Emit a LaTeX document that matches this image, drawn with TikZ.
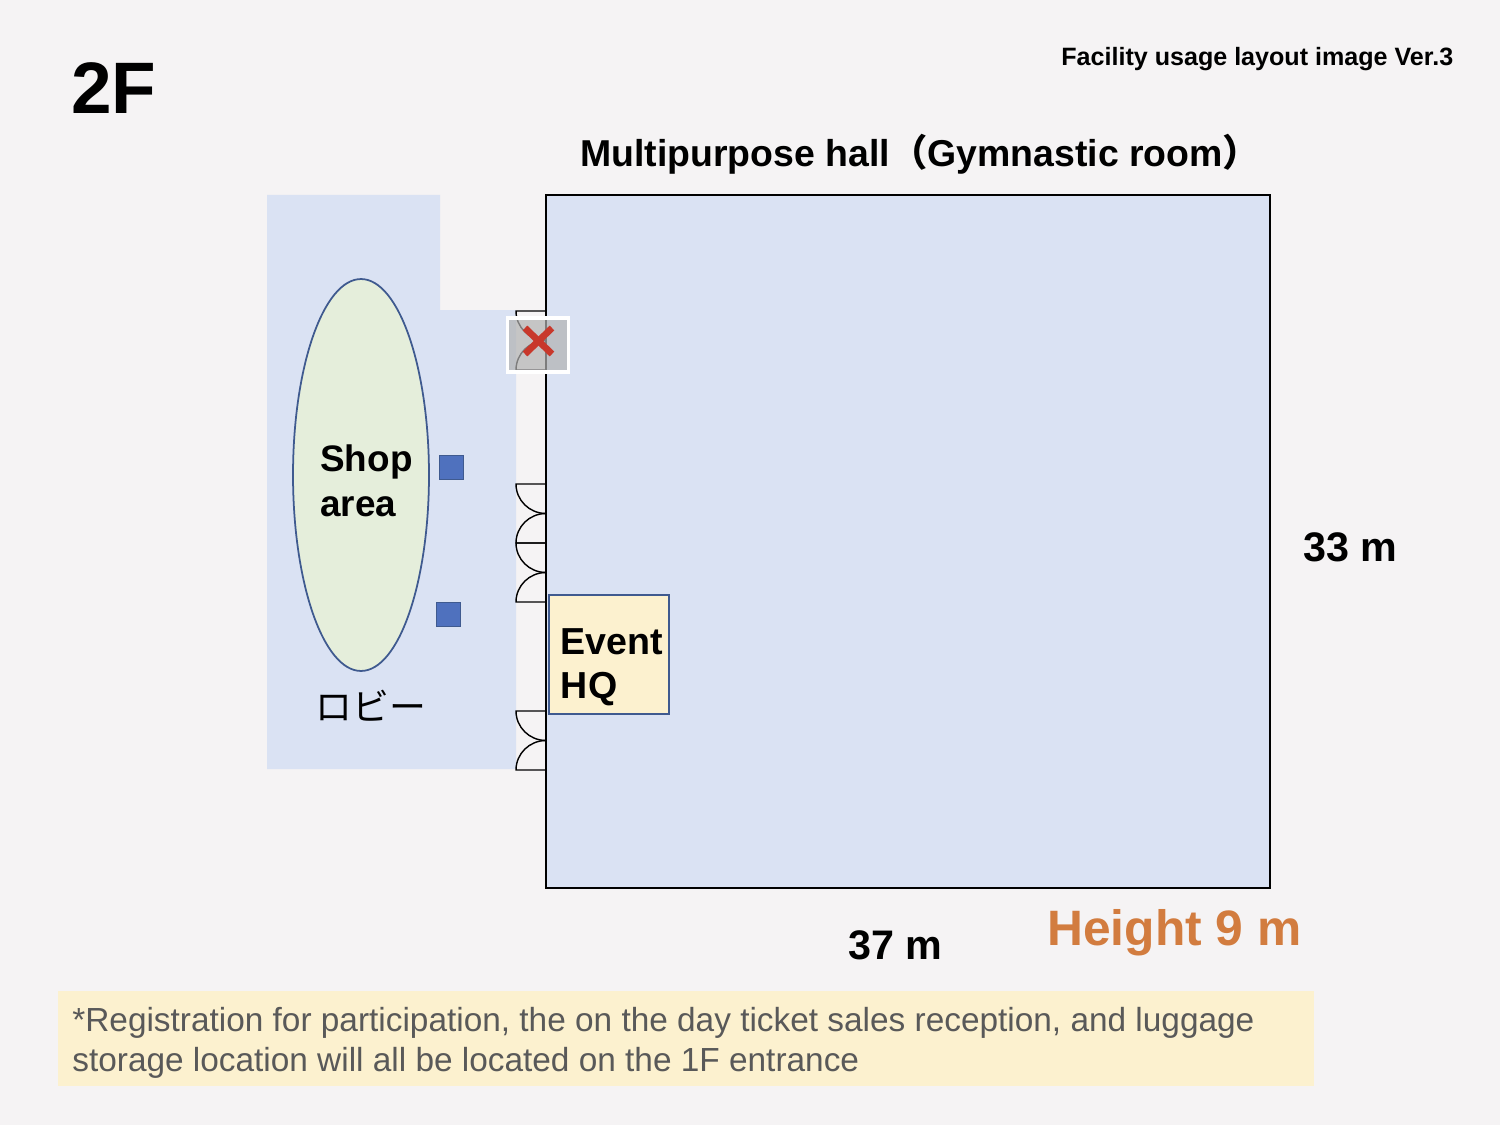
\documentclass[tikz,border=0pt]{standalone}
\usepackage{fontspec}
\setmainfont{Liberation Sans}
\newfontfamily\cjk{Noto Sans CJK JP}
\usetikzlibrary{shapes.geometric}
\definecolor{pagebg}{HTML}{F5F3F4}
\definecolor{roomblue}{HTML}{DAE2F3}
\definecolor{noteyellow}{HTML}{FCF1CF}
\definecolor{shopgreen}{HTML}{E5EEDB}
\definecolor{edgeblue}{HTML}{3F5A8F}
\definecolor{markblue}{HTML}{4F71BE}
\definecolor{heightorange}{HTML}{D27C3F}
\definecolor{notegray}{HTML}{595959}
\definecolor{crossred}{HTML}{C8382B}
\newcommand{\fsize}[1]{\fontsize{#1}{#1}\selectfont}

\begin{document}
\begin{tikzpicture}[x=0.02cm, y=-0.02cm]
    % Define styles
    \tikzstyle{txt}=[inner sep=0pt, anchor=base west]
    \tikzstyle{bold}=[txt, font=\bfseries]
    \tikzstyle{marker}=[draw=edgeblue, fill=markblue, line width=0.8pt, minimum size=0.48cm, inner sep=0pt]
    \tikzstyle{door}=[black, line width=0.8pt]

    % Page
    \fill[pagebg] (0,0) rectangle (1500,1125);
    \useasboundingbox (0,0) rectangle (1500,1125);

    % Lobby
    \fill[roomblue] (267,195) -- (440,195) -- (440,310) -- (516,310) -- (516,769) -- (267,769) -- cycle;

    % Hall
    \node[draw=black, fill=roomblue, line width=1.1pt, minimum width=14.48cm, minimum height=13.86cm, inner sep=0pt] (hall) at (908,541.5) {};

    % Doors on the left wall of the hall
    \foreach \y in {311, 484, 543, 711} {
        \draw[door] (546,\y) -- (516,\y) arc[start angle=180, end angle=270, x radius=0.6cm, y radius=0.59cm];
        \draw[door] (546,\y+29.5) arc[start angle=90, end angle=180, x radius=0.6cm, y radius=0.59cm] -- +(30,0);
    }

    % Closed door
    \node[draw=white, fill=gray!60, fill opacity=0.7, draw opacity=1, line width=1.9pt, minimum width=1.22cm, minimum height=1.08cm, inner sep=0pt] (closed) at (538,345) {};
    \draw[crossred, line width=3.8pt] (525,328) -- (552,354);
    \draw[crossred, line width=3.8pt] (552,328) -- (525,354);

    % Shop area
    \node[draw=edgeblue, fill=shopgreen, ellipse, line width=1pt, minimum width=2.72cm, minimum height=7.84cm, inner sep=0pt] (shop) at (361,475) {};
    \node[bold] (shoplabel) at (320,471) {\fsize{21}Shop};
    \node[bold] (arealabel) at (320,516) {\fsize{21}area};
    \node[marker] (upper) at (451.5,467.5) {};
    \node[marker] (lower) at (448.5,614.5) {};
    \node[txt] (lobby) at (315,720) {\cjk\fsize{21}ロビー};

    % Event HQ
    \node[draw=edgeblue, fill=noteyellow, line width=0.8pt, minimum width=2.4cm, minimum height=2.38cm, inner sep=0pt] (hq) at (609,654.5) {};
    \node[bold] (eventlabel) at (560.5,654) {\fsize{21.4}Event};
    \node[bold] (hqlabel) at (560.5,698) {\fsize{21.4}HQ};

    % Headings and sizes
    \node[bold] (floor) at (71,113.5) {\fsize{41.5}2F};
    \node[bold] (version) at (1061,66) {\fsize{14.28}Facility usage layout image Ver.3};
    \node[bold] (title) at (580,167) {\fsize{21.3}Multipurpose hall{\cjk（}Gymnastic room{\cjk）}};
    \node[bold] (depth) at (1303,561) {\fsize{23.5}33 m};
    \node[bold] (width) at (848,959) {\fsize{23.5}37 m};
    \node[bold, text=heightorange] (height) at (1047,945) {\fsize{28.3}Height 9 m};

    % Note
    \node[fill=noteyellow, minimum width=25.12cm, minimum height=1.9cm, inner sep=0pt] (note) at (686,1038.5) {};
    \node[txt, text=notegray] (noteone) at (72,1031) {\fsize{19}*Registration for participation, the on the day ticket sales reception, and luggage};
    \node[txt, text=notegray] (notetwo) at (72,1071) {\fsize{19}storage location will all be located on the 1F entrance};
\end{tikzpicture}
\end{document}
